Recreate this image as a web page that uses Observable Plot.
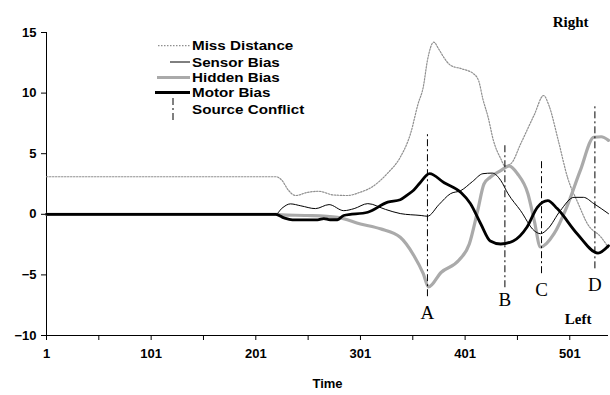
<!DOCTYPE html>
<html><head><meta charset="utf-8">
<script src="https://cdn.jsdelivr.net/npm/d3@7"></script>
<script src="https://cdn.jsdelivr.net/npm/@observablehq/plot@0.6"></script>
<style>
body{margin:0;background:#fff;}
#wrap{position:relative;width:610px;height:395px;}
#legend{position:absolute;left:0;top:0;pointer-events:none;}
</style>
</head><body><div id="wrap"></div>
<script>
// ---- data ----
const missT = [1, 220, 226, 232, 239, 250, 261, 275, 289, 300, 311, 327, 339, 349, 356, 361, 365, 371, 376, 381, 387, 398, 409, 414, 418, 423, 428, 435, 439, 445, 454, 467, 476, 481, 490, 499, 509, 518, 531, 538];
const missV = [3.1, 3.1, 2.8, 2.0, 1.55, 1.8, 1.9, 1.6, 1.55, 1.8, 2.2, 3.4, 4.7, 6.7, 9.1, 10.5, 12.7, 14.2, 13.6, 12.9, 12.3, 12.0, 11.6, 11.0, 9.5, 8.0, 6.1, 4.6, 4.0, 4.2, 5.8, 8.2, 9.8, 9.0, 6.1, 3.0, 0.9, -0.8, -1.9, -2.75];

const sensorT = [1, 220, 226, 234, 244, 258, 271, 285, 295, 308, 325, 339, 359, 365, 376, 387, 397, 408, 418, 427, 435, 442, 454, 467, 473, 480, 492, 505, 514, 524, 538];
const sensorV = [0, 0, 0.5, 0.86, 0.7, 0.47, 0.8, 0.3, 0.47, 0.88, 0.4, 0.06, -0.1, -0.16, 0.8, 1.7, 1.96, 2.7, 3.35, 3.4, 2.8, 1.7, 0.3, -1.35, -1.6, -1.2, 0.3, 1.4, 1.4, 0.88, 0.05];

const hiddenT = [1, 220, 226, 250, 279, 301, 320, 339, 352, 361, 366, 378, 395, 405, 413, 419, 425, 435, 443, 451, 461, 467, 473, 486, 498, 511, 524, 531, 538];
const hiddenV = [0, 0, -0.05, -0.1, -0.25, -0.8, -1.2, -1.9, -3.4, -4.9, -6.0, -4.8, -3.8, -2.45, 0.3, 2.5, 3.06, 3.6, 4.0, 3.35, 1.7, -0.5, -2.7, -1.6, 0.58, 3.6, 6.36, 6.4, 6.1];

const motorT = [1, 220, 228, 236, 260, 266, 272, 279, 285, 308, 327, 339, 346, 352, 358, 367, 381, 397, 406, 416, 425, 435, 447, 460, 470, 480, 489, 508, 528, 538];
const motorV = [0, 0, -0.3, -0.46, -0.46, -0.35, -0.45, -0.45, -0.1, 0.17, 1.0, 1.2, 1.6, 2.0, 2.6, 3.35, 2.6, 1.8, 0.9, -0.8, -2.2, -2.45, -2.2, -1.07, 0.58, 1.13, 0.47, -1.6, -3.2, -2.6];

const eventT = [365, 439, 474, 525];
const eventTop = [6.8, 5.85, 4.5, 9.0];
const eventBottom = [-6.8, -6.06, -4.9, -4.5];
const eventLabel = ["A", "B", "C", "D"];
const eventLabelY = [-8.1, -7.1, -6.2, -5.8];

const xTicks = [1, 51, 101, 151, 201, 251, 301, 351, 401, 451, 501];
const xLabels = [1, 101, 201, 301, 401, 501];
const yTicks = [-10, -5, 0, 5, 10, 15];
const seriesNames = ["Miss Distance", "Sensor Bias", "Hidden Bias", "Motor Bias", "Source Conflict"];
const sideLabels = ["Right", "Left"];

// ---- build ----
const rows = (ts, vs) => ts.map((t, i) => ({t, v: vs[i]}));
const styles = {
  "Miss Distance": {stroke: "#8f8f8f", width: 1.2, dash: "1.5,1.5"},
  "Sensor Bias": {stroke: "#000", width: 1, dash: null},
  "Hidden Bias": {stroke: "#aaaaaa", width: 3.2, dash: null},
  "Motor Bias": {stroke: "#000", width: 2.8, dash: null},
  "Source Conflict": {stroke: "#000", width: 1, dash: "7,3,2,3"}
};
const series = [
  ["Miss Distance", rows(missT, missV)],
  ["Hidden Bias", rows(hiddenT, hiddenV)],
  ["Sensor Bias", rows(sensorT, sensorV)],
  ["Motor Bias", rows(motorT, motorV)]
];
const events = eventT.map((t, i) => ({t, top: eventTop[i], bottom: eventBottom[i], label: eventLabel[i], ly: eventLabelY[i]}));
const serif = "'Liberation Serif', 'Times New Roman', serif";

const chart = Plot.plot({
  width: 610, height: 395,
  marginTop: 32, marginBottom: 60, marginLeft: 46, marginRight: 2,
  style: {fontFamily: "'Liberation Sans', Arial, sans-serif", fontSize: "13px", fontWeight: "bold", background: "#fff", color: "#000", overflow: "visible"},
  x: {domain: [1, 538]},
  y: {domain: [-10, 15]},
  marks: [
    Plot.axisY({ticks: yTicks, tickSize: 5, tickPadding: 5, label: null}),
    Plot.axisX({ticks: xTicks, tickSize: 5, tickPadding: 8, tickFormat: d => xLabels.includes(d) ? String(d) : "", label: "Time", labelAnchor: "center", labelArrow: "none", labelOffset: 52}),
    Plot.ruleX([1]),
    Plot.ruleY([-10]),
    ...series.map(([name, data]) => Plot.line(data, {x: "t", y: "v", stroke: styles[name].stroke, strokeWidth: styles[name].width, strokeDasharray: styles[name].dash, curve: "monotone-x"})),
    Plot.ruleX(events, {x: "t", y1: "bottom", y2: "top", stroke: "#000", strokeWidth: 1, strokeDasharray: styles["Source Conflict"].dash}),
    Plot.text(events, {x: "t", y: "ly", text: "label", fontFamily: serif, fontSize: 19, fontWeight: "normal"}),
    Plot.text([sideLabels[0]], {text: d => d, frameAnchor: "top-right", textAnchor: "end", dx: -20, dy: -16, fontFamily: serif, fontSize: 15, fontWeight: "bold"}),
    Plot.text([sideLabels[1]], {text: d => d, frameAnchor: "bottom-right", textAnchor: "end", dx: -17, dy: -12, fontFamily: serif, fontSize: 15, fontWeight: "bold"})
  ]
});
const wrap = document.getElementById("wrap");
wrap.appendChild(chart);

// legend overlay
const leg = d3.select(wrap).append("svg").attr("id", "legend").attr("width", 610).attr("height", 395);
const legY = [45.7, 62, 77.5, 92.5, 109];
const swX = {"Miss Distance": [158, 190], "Sensor Bias": [170, 190], "Hidden Bias": [157, 190], "Motor Bias": [155, 190]};
seriesNames.forEach((name, i) => {
  const s = styles[name];
  if (name === "Source Conflict") {
    leg.append("line").attr("x1", 173).attr("x2", 173).attr("y1", 98).attr("y2", 120)
      .attr("stroke", s.stroke).attr("stroke-width", s.width).attr("stroke-dasharray", s.dash);
  } else {
    leg.append("line").attr("x1", swX[name][0]).attr("x2", swX[name][1]).attr("y1", legY[i]).attr("y2", legY[i])
      .attr("stroke", s.stroke).attr("stroke-width", s.width).attr("stroke-dasharray", s.dash);
  }
  leg.append("text").attr("transform", `translate(192,${legY[i]}) scale(1.17,1)`).attr("dy", "0.36em")
    .attr("font-family", "'Liberation Sans', Arial, sans-serif").attr("font-size", 13).attr("font-weight", "bold")
    .text(name);
});
</script>
</body></html>
